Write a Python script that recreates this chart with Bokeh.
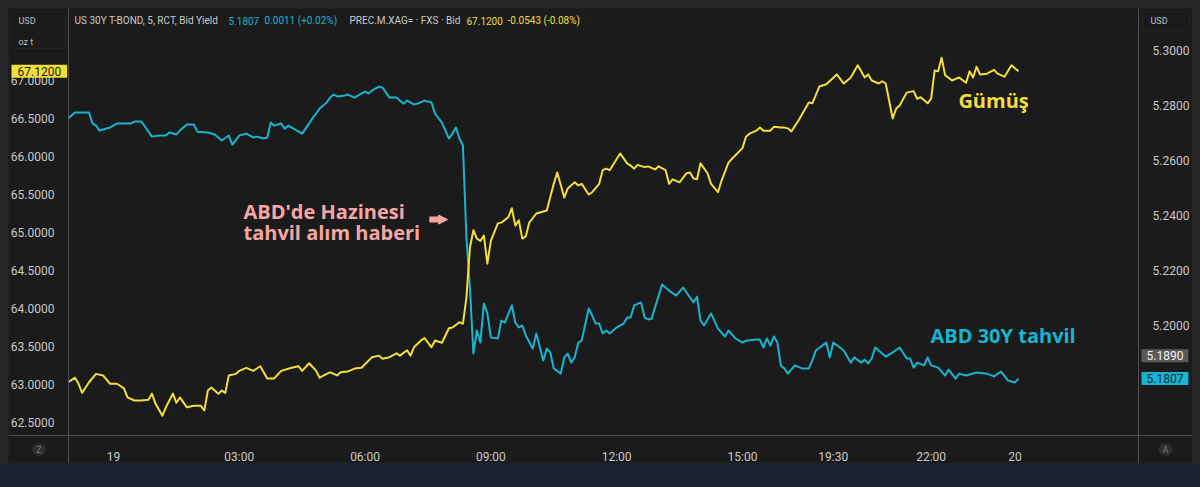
from bokeh.plotting import figure
from bokeh.models import (Range1d, LinearAxis, FixedTicker, PrintfTickFormatter,
                          Label, BoxAnnotation, Arrow, NormalHead)
from bokeh.embed import file_html
from bokeh.resources import INLINE

# 5-minute bar index (0 = midnight of the 19th) and silver bid (USD / oz t)
silver_bar = [
    -13, -11, -10, -9, -7, -5, -3, -1, 1, 3,
    4, 6, 8, 10, 11, 12, 14, 15, 17, 18,
    19, 21, 23, 25, 26, 27, 28, 30, 31, 32,
    33, 35, 36, 38, 40, 42, 44, 46, 48, 51,
    53, 54, 56, 58, 59, 61, 62, 64, 65, 67,
    69, 71, 74, 76, 77, 79, 81, 82, 84, 85,
    86, 88, 89, 90, 91, 92, 94, 96, 97, 99,
    100, 101, 102, 103, 104, 105, 106, 107, 108, 110,
    111, 113, 114, 115, 116, 117, 118, 119, 121, 124,
    126, 127, 129, 130, 132, 133, 134, 136, 137, 139,
    140, 141, 142, 145, 147, 148, 149, 150, 152, 153,
    155, 156, 158, 159, 160, 162, 164, 165, 166, 167,
    168, 170, 171, 173, 174, 176, 177, 180, 181, 182,
    184, 185, 186, 188, 189, 191, 192, 193, 194, 196,
    199, 200, 202, 204, 207, 209, 211, 213, 215, 216,
    217, 219, 220, 221, 223, 224, 225, 227, 229, 230,
    231, 233, 234, 235, 236, 237, 238, 240, 242, 244,
    245, 246, 247, 248, 250, 252, 253, 255, 257, 259,
]
silver_bid = [
    63.03, 63.09, 63.01, 62.89, 63.03, 63.14, 63.12, 63.01, 63.01, 62.95,
    62.83, 62.79, 62.79, 62.80, 62.88, 62.75, 62.59, 62.70, 62.88, 62.76,
    62.83, 62.70, 62.72, 62.72, 62.66, 62.92, 62.96, 62.88, 62.92, 62.89,
    63.12, 63.14, 63.18, 63.22, 63.18, 63.24, 63.08, 63.08, 63.18, 63.22,
    63.24, 63.18, 63.28, 63.18, 63.09, 63.14, 63.16, 63.12, 63.16, 63.17,
    63.21, 63.22, 63.36, 63.38, 63.34, 63.36, 63.41, 63.38, 63.45, 63.38,
    63.49, 63.58, 63.61, 63.55, 63.49, 63.58, 63.55, 63.74, 63.75, 63.82,
    63.80, 64.14, 64.80, 65.03, 64.92, 64.89, 64.96, 64.59, 64.89, 65.12,
    65.13, 65.20, 65.32, 65.09, 65.16, 64.92, 64.95, 65.13, 65.25, 65.29,
    65.64, 65.79, 65.46, 65.58, 65.66, 65.62, 65.64, 65.50, 65.53, 65.64,
    65.82, 65.84, 65.82, 66.04, 65.91, 65.88, 65.84, 65.89, 65.86, 65.87,
    65.83, 65.87, 65.82, 65.64, 65.70, 65.66, 65.78, 65.79, 65.71, 65.70,
    65.91, 65.78, 65.64, 65.53, 65.68, 65.92, 65.97, 66.11, 66.26, 66.30,
    66.34, 66.38, 66.34, 66.34, 66.39, 66.38, 66.38, 66.37, 66.33, 66.47,
    66.71, 66.70, 66.92, 66.95, 67.08, 66.96, 67.04, 67.20, 67.04, 67.08,
    67.00, 66.96, 66.99, 66.96, 66.50, 66.63, 66.67, 66.84, 66.86, 66.76,
    66.78, 66.70, 66.76, 67.13, 67.12, 67.30, 67.07, 67.00, 67.04, 66.97,
    67.12, 67.04, 67.18, 67.08, 67.09, 67.14, 67.09, 67.05, 67.20, 67.12,
]

# US 30Y T-bond bid yield
yield_bar = [
    -13, -11, -7, -6, -5, -4, -1, 1, 5, 6,
    8, 11, 13, 15, 16, 18, 19, 21, 23, 24,
    27, 29, 31, 33, 34, 36, 38, 40, 41, 43,
    44, 45, 46, 48, 49, 50, 54, 56, 57, 58,
    59, 61, 62, 63, 64, 66, 67, 69, 71, 72,
    73, 74, 76, 77, 79, 81, 83, 84, 86, 87,
    89, 91, 92, 94, 96, 97, 98, 99, 100, 101,
    102, 103, 104, 105, 106, 107, 108, 110, 111, 112,
    114, 115, 116, 117, 118, 120, 121, 123, 124, 125,
    126, 128, 129, 130, 131, 132, 133, 134, 136, 137,
    138, 139, 140, 141, 142, 144, 146, 147, 148, 149,
    151, 152, 153, 154, 157, 159, 161, 163, 165, 166,
    167, 168, 169, 171, 173, 175, 176, 178, 180, 181,
    184, 185, 186, 187, 188, 189, 190, 191, 192, 193,
    195, 197, 199, 200, 201, 204, 205, 206, 209, 211,
    212, 214, 215, 216, 217, 218, 221, 223, 225, 227,
    228, 229, 230, 232, 233, 234, 236, 238, 239, 241,
    242, 244, 247, 250, 252, 254, 256, 258, 259,
]
yield_val = [
    5.2753, 5.2775, 5.2775, 5.2735, 5.2727, 5.2709, 5.2720, 5.2735, 5.2735, 5.2742,
    5.2742, 5.2687, 5.2691, 5.2691, 5.2702, 5.2695, 5.2709, 5.2731, 5.2731, 5.2705,
    5.2702, 5.2695, 5.2673, 5.2691, 5.2658, 5.2691, 5.2698, 5.2684, 5.2687, 5.2680,
    5.2684, 5.2738, 5.2727, 5.2735, 5.2716, 5.2727, 5.2698, 5.2735, 5.2755, 5.2771,
    5.2789, 5.2811, 5.2829, 5.2840, 5.2833, 5.2836, 5.2840, 5.2829, 5.2844, 5.2851,
    5.2844, 5.2855, 5.2869, 5.2865, 5.2829, 5.2829, 5.2807, 5.2818, 5.2804, 5.2807,
    5.2818, 5.2811, 5.2771, 5.2738, 5.2680, 5.2698, 5.2720, 5.2680, 5.2655, 5.2320,
    5.2138, 5.1898, 5.1982, 5.1938, 5.2080, 5.2044, 5.1956, 5.1953, 5.2018, 5.2011,
    5.2073, 5.2011, 5.1993, 5.2000, 5.1964, 5.1916, 5.1971, 5.1873, 5.1916, 5.1902,
    5.1844, 5.1825, 5.1884, 5.1898, 5.1865, 5.1884, 5.1938, 5.1945, 5.2062, 5.2036,
    5.2007, 5.2007, 5.1971, 5.1982, 5.1971, 5.1993, 5.2007, 5.2029, 5.2029, 5.2073,
    5.2084, 5.2029, 5.2022, 5.2025, 5.2149, 5.2127, 5.2109, 5.2138, 5.2102, 5.2084,
    5.2105, 5.2018, 5.2000, 5.2044, 5.1989, 5.1960, 5.1982, 5.1953, 5.1938, 5.1945,
    5.1949, 5.1949, 5.1920, 5.1953, 5.1927, 5.1960, 5.1938, 5.1855, 5.1844, 5.1825,
    5.1855, 5.1844, 5.1844, 5.1873, 5.1909, 5.1938, 5.1884, 5.1938, 5.1909, 5.1865,
    5.1884, 5.1865, 5.1876, 5.1862, 5.1880, 5.1920, 5.1887, 5.1902, 5.1920, 5.1880,
    5.1880, 5.1847, 5.1865, 5.1855, 5.1884, 5.1855, 5.1847, 5.1818, 5.1840, 5.1807,
    5.1825, 5.1818, 5.1829, 5.1825, 5.1815, 5.1833, 5.1800, 5.1793, 5.1807,
]

assert len(silver_bar) == len(silver_bid)
assert len(yield_bar) == len(yield_val)

x_ticks = [0, 36, 72, 108, 144, 180, 206, 234, 258]
x_tick_labels = ["19", "03:00", "06:00", "09:00", "12:00", "15:00", "19:30", "22:00", "20"]
silver_ticks = [62.5, 63.0, 63.5, 64.0, 64.5, 65.0, 65.5, 66.0, 66.5, 67.0]
yield_ticks = [5.20, 5.22, 5.24, 5.26, 5.28, 5.30]

silver_last = 67.12
yield_last = 5.1807
yield_prev = 5.1890

BG = "#1b1b1b"
GREY_TXT = "#c9c9c9"
YELLOW = "#f2df3c"
CYAN = "#19b4cf"
PINK = "#f5a6a6"
DIVIDER = "#505050"

# the frame fills the whole panel, the axes are pinned inside it
p = figure(width=1184, height=455, title=None, toolbar_location=None,
           output_backend="svg",
           x_range=Range1d(-30.05, 308.8), y_range=Range1d(61.961, 67.947),
           min_border=0,
           background_fill_color=BG, border_fill_color=BG,
           outline_line_color=None)
p.extra_y_ranges = {"yield": Range1d(5.14982, 5.3153)}
p.grid.visible = False

p.line(yield_bar, yield_val, y_range_name="yield", color=CYAN, line_width=2,
       line_join="round")
p.line(silver_bar, silver_bid, color=YELLOW, line_width=2, line_join="round")

# axes
p.yaxis.ticker = FixedTicker(ticks=silver_ticks)
p.yaxis.formatter = PrintfTickFormatter(format="%.4f")
p.yaxis.fixed_location = -12.88
right = LinearAxis(y_range_name="yield", ticker=FixedTicker(ticks=yield_ticks),
                   formatter=PrintfTickFormatter(format="%.4f"),
                   fixed_location=293.36)
p.add_layout(right, "right")
p.xaxis.ticker = FixedTicker(ticks=x_ticks)
p.xaxis.major_label_overrides = {t: s for t, s in zip(x_ticks, x_tick_labels)}
p.xaxis.fixed_location = 62.329

for ax in p.axis:
    ax.axis_line_color = DIVIDER
    ax.major_tick_line_color = None
    ax.minor_tick_line_color = None
    ax.major_label_text_color = GREY_TXT
    ax.major_label_text_font = "Roboto"
    ax.major_label_text_font_size = "12px"
    ax.major_label_standoff = 8

# unit boxes
p.add_layout(BoxAnnotation(left=2, right=57, top=452, bottom=415,
                           left_units="screen", right_units="screen",
                           top_units="screen", bottom_units="screen",
                           fill_color=BG, fill_alpha=1, line_color="#3c3c3c",
                           border_radius=3))
p.add_layout(BoxAnnotation(left=1134, right=1181, top=452, bottom=433,
                           left_units="screen", right_units="screen",
                           top_units="screen", bottom_units="screen",
                           fill_color=BG, fill_alpha=1, line_color="#3c3c3c",
                           border_radius=3))
for txt, sx, sy in [("USD", 10, 443), ("oz t", 10, 422), ("USD", 1142, 443)]:
    p.add_layout(Label(x=sx, y=sy, x_units="screen", y_units="screen", text=txt,
                       text_font="Roboto", text_font_size="9px",
                       text_color="#bdbdbd", text_baseline="middle"))

# header line
header = [
    ("US 30Y T-BOND, 5, RCT, Bid Yield", 66, GREY_TXT),
    ("5.1807", 220, CYAN),
    ("0.0011 (+0.02%)", 256, CYAN),
    ("PREC.M.XAG= \u00b7 FXS \u00b7 Bid", 341, GREY_TXT),
    ("67.1200", 458, YELLOW),
    ("-0.0543 (-0.08%)", 499, YELLOW),
]
for txt, sx, col in header:
    p.add_layout(Label(x=sx, y=443, x_units="screen", y_units="screen", text=txt,
                       text_font="Roboto", text_font_size="10px", text_color=col,
                       text_baseline="middle"))

# last value badges
p.add_layout(Label(x=3, y=silver_last, x_units="screen", text="%.4f" % silver_last,
                   text_font="Roboto", text_font_size="12px", text_color="#1a1a1a",
                   text_baseline="middle", background_fill_color=YELLOW,
                   padding=(6, 2)))
p.add_layout(Label(x=1133, y=yield_prev, x_units="screen", y_range_name="yield",
                   text="%.4f" % yield_prev, text_font="Roboto",
                   text_font_size="12px", text_color="#f0f0f0",
                   text_baseline="middle", background_fill_color="#5a5a5a",
                   padding=(5, 2)))
p.add_layout(Label(x=1133, y=yield_last, x_units="screen", y_range_name="yield",
                   text="%.4f" % yield_last, text_font="Roboto",
                   text_font_size="12px", text_color="#0d2a3a",
                   text_baseline="middle", background_fill_color=CYAN,
                   padding=(5, 2)))

# Z / A buttons in the time axis strip
for txt, sx in [("Z", 30.5), ("A", 1157)]:
    p.add_layout(Label(x=sx, y=14, x_units="screen", y_units="screen", text=txt,
                       text_font="Roboto", text_font_size="9px", text_color="#7a7a7a",
                       text_baseline="middle", text_align="center",
                       background_fill_color="#2f2f2f", border_radius=7,
                       padding=(4, 1)))

# annotations
p.add_layout(Label(x=37.2, y=65.276, text="ABD'de Hazinesi", text_font="Open Sans",
                   text_font_style="bold", text_font_size="20px", text_color=PINK,
                   text_baseline="middle"))
p.add_layout(Label(x=37.2, y=65.0, text="tahvil al\u0131m haberi", text_font="Open Sans",
                   text_font_style="bold", text_font_size="20px", text_color=PINK,
                   text_baseline="middle"))
p.add_layout(Arrow(x_start=90.4, y_start=65.17, x_end=95.6, y_end=65.17,
                   line_color=PINK, line_width=6,
                   end=NormalHead(size=9, fill_color=PINK, line_color=PINK)))
p.add_layout(Label(x=241.8, y=66.74, text="G\u00fcm\u00fc\u015f", text_font="Open Sans",
                   text_font_style="bold", text_font_size="20px", text_color=YELLOW,
                   text_baseline="middle"))
p.add_layout(Label(x=233.8, y=5.1964, y_range_name="yield", text="ABD 30Y tahvil",
                   text_font="Open Sans", text_font_style="bold",
                   text_font_size="20px", text_color=CYAN, text_baseline="middle"))

html = file_html(p, INLINE)
css = ("<style>html{height:100%;background:linear-gradient(to bottom,#262626 0,"
       "#262626 463px,#1d2231 463px,#1d2231 100%);}body{margin:8px;}</style>")
html = html.replace("</head>", css + "</head>", 1)
open("out.html", "w").write(html)
